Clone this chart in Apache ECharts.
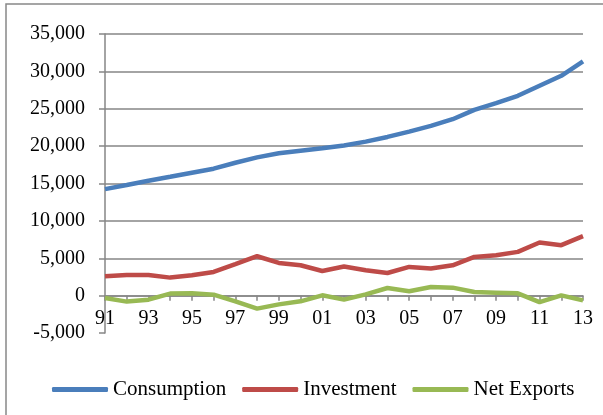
<!DOCTYPE html>
<html>
<head>
<meta charset="utf-8">
<script src="https://cdn.jsdelivr.net/npm/echarts@6/dist/echarts.min.js"></script>
<style>
html,body{margin:0;padding:0;background:#fff;}
#c{width:603px;height:415px;}
</style>
</head>
<body>
<div id="c"></div>
<script>
const categories = ['91','92','93','94','95','96','97','98','99','00','01','02','03','04','05','06','07','08','09','10','11','12','13'];
const consumption = [14250,14790,15370,15900,16440,16980,17780,18500,19040,19390,19710,20080,20600,21230,21940,22700,23600,24850,25740,26730,28070,29410,31330];
const investment = [2590,2760,2760,2410,2720,3170,4200,5270,4370,4060,3300,3890,3390,3030,3840,3620,4060,5180,5400,5850,7100,6750,7950];
const netExports = [-320,-800,-540,270,310,130,-760,-1740,-1170,-760,40,-540,170,1020,580,1150,1070,480,400,310,-860,40,-630];
const seriesNames = ['Consumption','Investment','Net Exports'];
const colors = ['#4A7EBB','#BE4B48','#98B954'];
const titleText = 'GDP Components';

const chart = echarts.init(document.getElementById('c'), null, {renderer:'canvas'});
const font = '"Liberation Serif","Times New Roman",serif';
const gridColor = '#868686';
const splitColors = ['rgba(0,0,0,0)', gridColor, gridColor, gridColor, gridColor, gridColor, gridColor, gridColor, gridColor];

chart.setOption({
  animation:false,
  backgroundColor:'#fff',
  graphic:[
    {type:'rect', shape:{x:6,y:4,width:700,height:500}, style:{fill:'none', stroke:'#888', lineWidth:1.5}, z:-10},
    {type:'text', x:252, y:-10, style:{text:titleText, font:'bold 20px "Liberation Serif",serif', fill:'#000', verticalAlign:'middle'}}
  ],
  grid:{left:105, right:20, top:34, bottom:82, containLabel:false},
  legend:{
    left:47, top:374,
    itemWidth:56, itemHeight:5, itemGap:16,
    icon:'roundRect',
    textStyle:{fontFamily:font, fontSize:21, color:'#000'},
    data:seriesNames
  },
  xAxis:{
    type:'category', data:categories, boundaryGap:false,
    offset:-37.3,
    axisLine:{onZero:false, lineStyle:{color:gridColor, width:1.5}},
    axisTick:{show:true, interval:0, length:5, lineStyle:{color:gridColor, width:1.5}},
    axisLabel:{interval:1, margin:13, fontFamily:font, fontSize:20, color:'#000'},
    splitLine:{show:false}
  },
  yAxis:{
    type:'value', min:-5000, max:35000, interval:5000,
    axisLine:{show:true, lineStyle:{color:gridColor, width:1.5}},
    axisTick:{show:true, length:6, lineStyle:{color:gridColor, width:1.5}},
    axisLabel:{margin:20, fontFamily:font, fontSize:20, color:'#000',
      formatter:function(v){return v.toLocaleString('en-US');}},
    splitLine:{show:true, lineStyle:{color:splitColors, width:1.5}}
  },
  series:[
    {name:seriesNames[0], type:'line', data:consumption, symbol:'none', lineStyle:{width:4.5, color:colors[0]}, itemStyle:{color:colors[0]}},
    {name:seriesNames[1], type:'line', data:investment, symbol:'none', lineStyle:{width:4.5, color:colors[1]}, itemStyle:{color:colors[1]}},
    {name:seriesNames[2], type:'line', data:netExports, symbol:'none', lineStyle:{width:4.5, color:colors[2]}, itemStyle:{color:colors[2]}}
  ]
});
</script>
</body>
</html>
